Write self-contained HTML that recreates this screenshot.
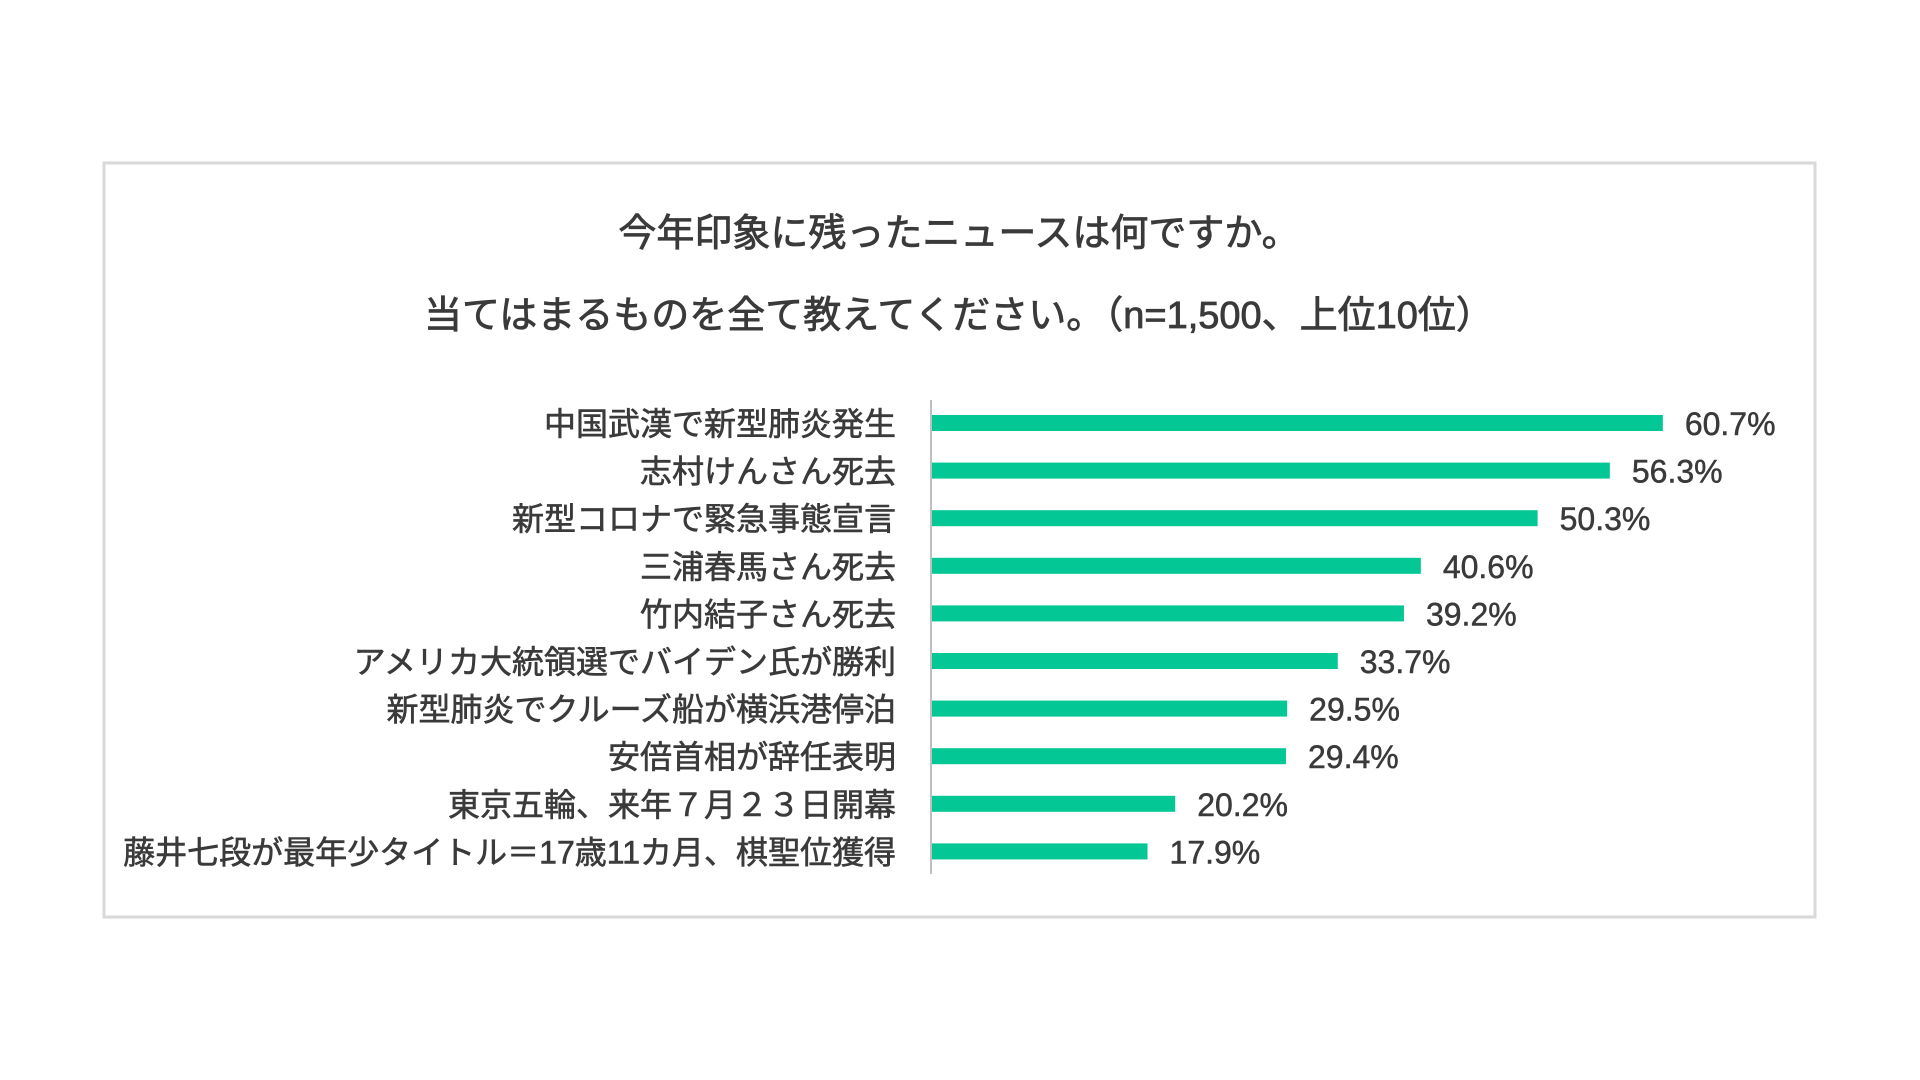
<!DOCTYPE html>
<html><head><meta charset="utf-8"><style>
body{margin:0;background:#fff;}
svg{display:block;font-family:"Liberation Sans","Noto Sans CJK JP",sans-serif;}
</style></head><body>
<svg id="chart" width="1920" height="1080">
<rect x="104" y="163" width="1711" height="754" fill="#fff" stroke="#d9d9d9" stroke-width="3"/>
<text x="959" y="246" text-anchor="middle" font-size="38" fill="#3a3a3a" stroke="#3a3a3a" stroke-width="0.8">今年印象に残ったニュースは何ですか。</text>
<text x="959" y="328" text-anchor="middle" font-size="38" fill="#3a3a3a" stroke="#3a3a3a" stroke-width="0.8">当てはまるものを全て教えてください。（n=1,500、上位10位）</text>
<line x1="931" y1="400" x2="931" y2="874" stroke="#bfbfbf" stroke-width="2"/>
<g id="bars"></g>
</svg>
<script>
const categories=["中国武漢で新型肺炎発生","志村けんさん死去","新型コロナで緊急事態宣言","三浦春馬さん死去","竹内結子さん死去","アメリカ大統領選でバイデン氏が勝利","新型肺炎でクルーズ船が横浜港停泊","安倍首相が辞任表明","東京五輪、来年７月２３日開幕","藤井七段が最年少タイトル＝17歳11カ月、棋聖位獲得"];
const values=[60.7,56.3,50.3,40.6,39.2,33.7,29.5,29.4,20.2,17.9];
const valueLabels=["60.7%","56.3%","50.3%","40.6%","39.2%","33.7%","29.5%","29.4%","20.2%","17.9%"];
const NS="http://www.w3.org/2000/svg";
const x0=932, pxPer=12.04;
function xScale(v){return x0+v*pxPer;}
function yScale(i){return 423+i*47.6;}
const g=document.getElementById('bars');
categories.forEach((c,i)=>{
  const cy=yScale(i);
  const r=document.createElementNS(NS,'rect');
  r.setAttribute('x',x0);r.setAttribute('y',cy-8);
  r.setAttribute('width',xScale(values[i])-x0);r.setAttribute('height',16);
  r.setAttribute('fill','#03c795');
  
  
  g.appendChild(r);
  const t=document.createElementNS(NS,'text');
  t.setAttribute('x',896);t.setAttribute('y',cy+12);
  t.setAttribute('text-anchor','end');t.setAttribute('font-size','32');t.setAttribute('fill','#3a3a3a');
  t.setAttribute('stroke','#3a3a3a');t.setAttribute('stroke-width','0.6');
  t.textContent=c;
  
  
  g.appendChild(t);
  const v=document.createElementNS(NS,'text');
  v.setAttribute('x',xScale(values[i])+22);v.setAttribute('y',cy+12);
  v.setAttribute('font-size','32');v.setAttribute('fill','#3a3a3a');
  v.setAttribute('stroke','#3a3a3a');v.setAttribute('stroke-width','0.5');
  v.textContent=valueLabels[i];
  
  
  g.appendChild(v);
});
</script>
</body></html>
